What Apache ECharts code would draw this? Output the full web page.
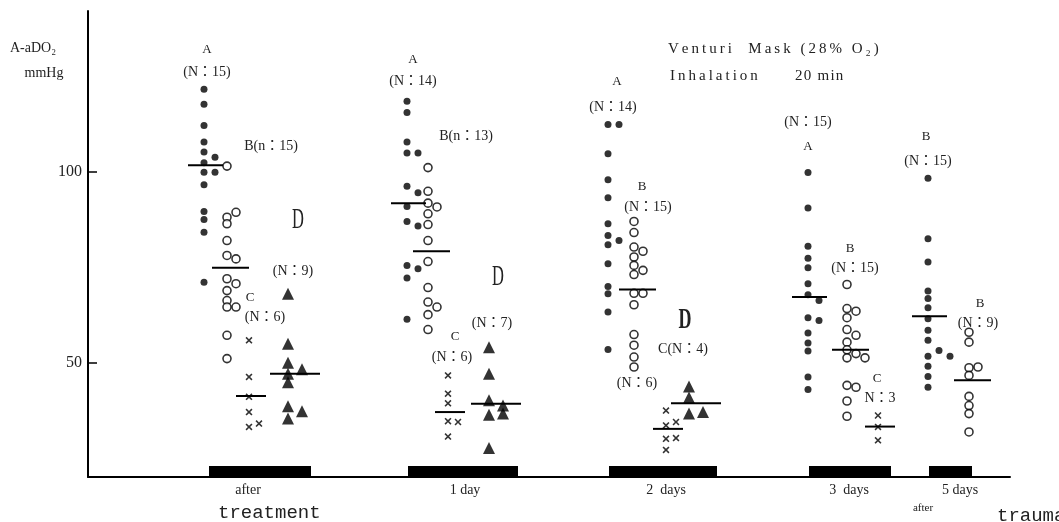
<!DOCTYPE html>
<html>
<head>
<meta charset="utf-8">
<script src="https://cdn.jsdelivr.net/npm/echarts@6/dist/echarts.min.js"></script>
<style>
  html, body { margin: 0; padding: 0; background: #fff; }
  #chart { width: 1059px; height: 522px; }
</style>
</head>
<body>
<div id="chart"></div>
<script>
// A-aDO2 (mmHg) under Venturi mask (28% O2), measured after 20 min inhalation.
// A = filled dots, B = open circles, C = crosses, D = triangles.

const groupNames = ['after', '1 day', '2 days', '3 days', '5 days'];

// after treatment
const afterA = [121.5, 117.6, 112.0, 107.7, 105.1, 103.7, 102.3, 99.8, 99.8, 96.5, 89.5, 87.4, 84.1, 71.0];
const afterB = [101.4, 88.0, 89.3, 86.3, 81.9, 78.0, 77.1, 71.9, 70.6, 68.8, 66.2, 64.5, 64.5, 57.1, 51.0];
const afterC = [55.8, 46.2, 41.0, 37.0, 33.1, 34.0];
const afterD = [68.0, 54.9, 49.9, 48.2, 47.0, 44.8, 38.5, 37.2, 35.3];

// 1 day
const day1A = [118.4, 115.4, 107.7, 104.8, 104.8, 96.1, 94.4, 90.8, 86.9, 85.7, 75.4, 74.5, 72.1, 61.3];
const day1B = [101.0, 94.8, 91.7, 90.7, 88.9, 86.1, 81.9, 76.4, 69.6, 65.8, 64.5, 62.5, 58.6];
const day1C = [46.6, 41.8, 39.3, 34.6, 34.4, 30.6];
const day1D = [54.0, 47.0, 40.1, 38.7, 36.3, 36.6, 27.6];

// 2 days
const day2A = [112.3, 112.3, 104.6, 97.8, 93.1, 86.3, 83.2, 81.9, 80.8, 75.8, 69.9, 68.0, 63.2, 53.4];
const day2B = [86.9, 84.0, 80.2, 79.1, 77.6, 75.4, 74.1, 73.0, 68.1, 68.1, 65.1, 57.3, 54.5, 51.4, 48.8];
const day2C = [37.4, 33.5, 34.4, 30.0, 30.2, 27.1];
const day2D = [43.7, 40.8, 36.6, 37.0];

// 3 days
const day3A = [99.7, 90.4, 80.4, 77.3, 74.8, 70.6, 67.7, 66.2, 61.7, 61.0, 57.7, 55.1, 53.0, 46.2, 42.9];
const day3B = [70.4, 64.1, 63.4, 61.7, 58.6, 57.1, 55.3, 53.3, 52.3, 51.2, 51.2, 44.0, 43.5, 39.9, 35.9];
const day3C = [36.1, 33.1, 29.6];

// 5 days
const day5A = [98.2, 82.4, 76.3, 68.7, 66.7, 64.3, 61.4, 58.4, 55.8, 51.6, 53.1, 51.6, 49.0, 46.3, 43.5];
const day5B = [57.9, 55.3, 48.6, 48.8, 46.6, 41.1, 38.7, 36.6, 31.8];

// group means (A, B, C, D); null where no mean bar is drawn
const meanAfter = [101.6, 74.8, 41.2, 47.0];
const meanDay1 = [91.7, 79.1, 37.0, 39.2];
const meanDay2 = [null, 69.1, 32.6, 39.3];
const meanDay3 = [67.1, 53.3, 33.2];
const meanDay5 = [62.1, 45.3];

// y-axis tick labels
const yTicks = [50, 100];

// ---------- layout ----------
const groupValues = [
  [afterA, afterB, afterC, afterD],
  [day1A, day1B, day1C, day1D],
  [day2A, day2B, day2C, day2D],
  [day3A, day3B, day3C],
  [day5A, day5B]
];
const groupMeans = [meanAfter, meanDay1, meanDay2, meanDay3, meanDay5];

// x axis runs 0..922 along the time axis; column centre of each set per group
const columnX = [
  [116, 139, 161, 200],
  [319, 340, 360, 401],
  [520, 546, 578, 601],
  [720, 759, 790],
  [840, 881]
];
// black treatment bars resting on the time axis
const barSpan = [[121, 223], [320, 430], [521, 629], [721, 803], [841, 884]];

const CROSS = 'path://M0,1.6L1.6,0L5,3.4L8.4,0L10,1.6L6.6,5L10,8.4L8.4,10L5,6.6L1.6,10L0,8.4L3.4,5Z';
const setStyle = [
  { name: 'A', symbol: 'circle', size: 7, item: { color: '#000' }, gap: 1.8, step: 11, mean: [-16, 19] },
  { name: 'B', symbol: 'circle', size: 8, item: { color: '#fff', borderColor: '#000', borderWidth: 1.6 }, gap: 1.6, step: 9, mean: [-15, 22] },
  { name: 'C', symbol: CROSS, size: 7, item: { color: '#000' }, gap: 1.6, step: 10, mean: [-13, 17] },
  { name: 'D', symbol: 'triangle', size: 12, item: { color: '#000' }, gap: 2.0, step: 14, mean: [-18, 32] }
];

// side-by-side placement of points that would overlap in one column
function dodge(values, gap) {
  const lanes = [];
  return values.map(v => {
    let k = 0;
    while ((lanes[k] || []).some(u => Math.abs(u - v) < gap)) k++;
    (lanes[k] = lanes[k] || []).push(v);
    return k;
  });
}

const pointSeries = setStyle.map((st, s) => {
  const data = [];
  groupValues.forEach((sets, g) => {
    const vals = sets[s];
    if (!vals) return;
    const lanes = dodge(vals, st.gap);
    vals.forEach((v, i) => data.push([columnX[g][s] + lanes[i] * st.step, v]));
  });
  return {
    name: st.name, type: 'scatter', symbol: st.symbol, symbolSize: st.size,
    itemStyle: st.item, data, z: 5, silent: true, animation: false
  };
});

const meanData = [];
groupMeans.forEach((means, g) => means.forEach((m, s) => {
  if (m != null) meanData.push([columnX[g][s], m, s]);
}));

const SERIF = '"Liberation Serif", "Noto Sans CJK JP", serif';
const MONO = '"Liberation Mono", "DejaVu Sans Mono", monospace';
const spread = (t, sp) => t.split('').join(sp || '\u200A');

// annotations placed in data space: [text, x, value, kind]
const notes = [
  ['A', 119, 131.9, 'tag'], ['(N：15)', 119, 125.9, 'n'],
  ['B(n：15)', 183, 106.5, 'n'], ['D', 210, 87.2, 'big'],
  ['(N：9)', 205, 73.8, 'n'], ['C', 162, 67.0, 'tag'], ['(N：6)', 177, 61.8, 'n'],

  ['A', 325, 129.3, 'tag'], ['(N：14)', 325, 123.6, 'n'],
  ['B(n：13)', 378, 109.2, 'n'], ['D', 410, 72.3, 'big'],
  ['(N：7)', 404, 60.2, 'n'], ['C', 367, 56.8, 'tag'], ['(N：6)', 364, 51.3, 'n'],

  ['A', 529, 123.6, 'tag'], ['(N：14)', 525, 116.8, 'n'],
  ['B', 554, 96.1, 'tag'], ['(N：15)', 560, 90.6, 'n'], ['D', 597, 61.0, 'bold'],
  ['C(N：4)', 595, 53.4, 'n'], ['(N：6)', 549, 44.5, 'n'],

  ['(N：15)', 720, 112.8, 'n'], ['A', 720, 106.5, 'tag'],
  ['B', 762, 79.8, 'tag'], ['(N：15)', 767, 74.6, 'n'],
  ['C', 789, 45.8, 'tag'], ['N：3', 792, 40.6, 'n'],

  ['B', 838, 109.2, 'tag'], ['(N：15)', 840, 102.6, 'n'],
  ['B', 892, 65.4, 'tag'], ['(N：9)', 890, 60.2, 'n']
];
const noteStyle = {
  tag: { fontSize: 13, scaleX: 1 },
  n: { fontSize: 14, scaleX: 1 },
  big: { fontSize: 30, scaleX: 0.55 },
  bold: { fontSize: 30, scaleX: 0.6, fontWeight: 'bold' }
};

const chart = echarts.init(document.getElementById('chart'), null, { renderer: 'canvas' });

chart.setOption({
  animation: false,
  backgroundColor: '#fff',
  grid: { left: 88, right: 49, top: 11, bottom: 45, containLabel: false, outerBoundsMode: 'none' },
  xAxis: {
    type: 'value', min: 0, max: 922,
    axisLine: { show: true, lineStyle: { color: '#000', width: 2 } },
    axisTick: { show: false }, axisLabel: { show: false }, splitLine: { show: false }
  },
  yAxis: {
    type: 'value', min: 20, max: 142,
    axisLine: { show: true, lineStyle: { color: '#000', width: 2 } },
    axisTick: { show: true, inside: true, length: 9, customValues: yTicks, lineStyle: { color: '#000', width: 1.5 } },
    axisLabel: { customValues: yTicks, margin: 6, color: '#222', fontFamily: SERIF, fontSize: 16 },
    splitLine: { show: false }
  },
  series: [
    {
      type: 'custom', name: 'bars', silent: true, z: 2,
      data: barSpan,
      renderItem: (params, api) => {
        const a = api.coord([api.value(0), 20]);
        const b = api.coord([api.value(1), 20]);
        return { type: 'rect', shape: { x: a[0], y: a[1] - 11, width: b[0] - a[0], height: 11 }, style: { fill: '#000' } };
      }
    },
    ...pointSeries,
    {
      type: 'custom', name: 'means', silent: true, z: 6,
      data: meanData,
      renderItem: (params, api) => {
        const x = api.value(0), m = api.value(1), span = setStyle[api.value(2)].mean;
        const a = api.coord([x + span[0], m]);
        const b = api.coord([x + span[1], m]);
        return { type: 'line', shape: { x1: a[0], y1: a[1], x2: b[0], y2: b[1] }, style: { stroke: '#000', lineWidth: 2 } };
      }
    },
    {
      type: 'custom', name: 'notes', silent: true, z: 7,
      data: notes.map(n => [n[1], n[2]]),
      renderItem: (params, api) => {
        const n = notes[params.dataIndex];
        const st = noteStyle[n[3]];
        const p = api.coord([api.value(0), api.value(1)]);
        return {
          type: 'text', x: p[0], y: p[1], scaleX: st.scaleX,
          style: {
            text: n[0],
            fontFamily: SERIF, fontSize: st.fontSize, fontWeight: st.fontWeight || 'normal',
            fill: '#222', align: 'center', verticalAlign: 'middle'
          }
        };
      }
    }
  ],
  graphic: [
    { type: 'text', x: 10, y: 48, style: { text: 'A-aDO₂', font: '14px ' + SERIF, fill: '#222', verticalAlign: 'middle' } },
    { type: 'text', x: 44, y: 73, style: { text: 'mmHg', font: '14px ' + SERIF, fill: '#222', align: 'center', verticalAlign: 'middle' } },
    { type: 'text', x: 668, y: 49, style: { text: spread('Venturi  Mask (28% O₂)', '\u2009'), font: '15px ' + SERIF, fill: '#222', verticalAlign: 'middle' } },
    { type: 'text', x: 670, y: 76, style: { text: spread('Inhalation', '\u2009'), font: '15px ' + SERIF, fill: '#222', verticalAlign: 'middle' } },
    { type: 'text', x: 795, y: 76, style: { text: spread('20 min'), font: '15px ' + SERIF, fill: '#222', verticalAlign: 'middle' } },

    { type: 'text', x: 248, y: 490, style: { text: groupNames[0], font: '14px ' + SERIF, fill: '#222', align: 'center', verticalAlign: 'middle' } },
    { type: 'text', x: 218, y: 513, style: { text: 'treatment', font: '19px ' + MONO, fill: '#222', verticalAlign: 'middle' } },
    { type: 'text', x: 465, y: 490, style: { text: groupNames[1], font: '14px ' + SERIF, fill: '#222', align: 'center', verticalAlign: 'middle' } },
    { type: 'text', x: 666, y: 490, style: { text: groupNames[2].replace(' ', '  '), font: '14px ' + SERIF, fill: '#222', align: 'center', verticalAlign: 'middle' } },
    { type: 'text', x: 849, y: 490, style: { text: groupNames[3].replace(' ', '  '), font: '14px ' + SERIF, fill: '#222', align: 'center', verticalAlign: 'middle' } },
    { type: 'text', x: 960, y: 490, style: { text: groupNames[4], font: '14px ' + SERIF, fill: '#222', align: 'center', verticalAlign: 'middle' } },
    { type: 'text', x: 923, y: 508, style: { text: 'after', font: '11px ' + SERIF, fill: '#222', align: 'center', verticalAlign: 'middle' } },
    { type: 'text', x: 997, y: 516, style: { text: 'trauma', font: '19px ' + MONO, fill: '#222', verticalAlign: 'middle' } }
  ]
});
</script>
</body>
</html>
